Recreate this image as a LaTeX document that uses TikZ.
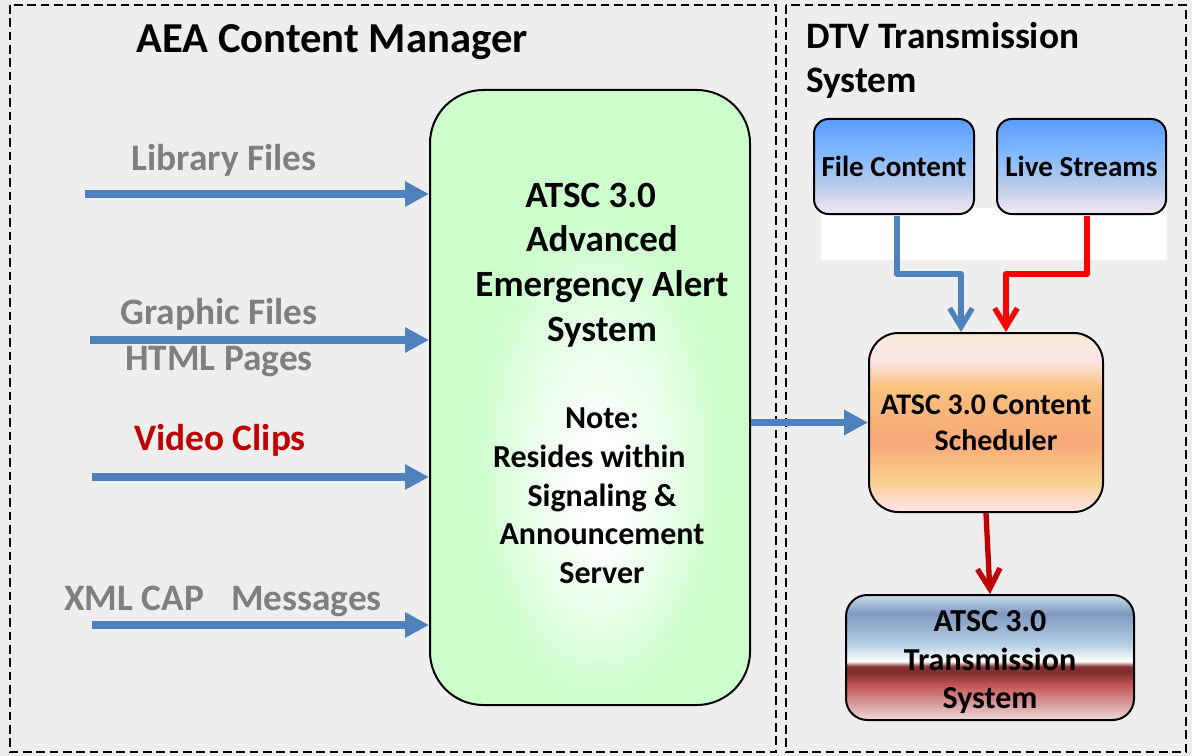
\documentclass[tikz,border=0pt]{standalone}
\usepackage{fontspec}
\setmainfont{Carlito}
\usetikzlibrary{arrows.meta,calc}
\definecolor{bg}{HTML}{EEEEEE}
\definecolor{lblgray}{HTML}{7F7F7F}
\definecolor{vidred}{HTML}{C00000}
\definecolor{arrblue}{HTML}{4F81BD}
\definecolor{arrred}{HTML}{FF0000}
\definecolor{arrdark}{HTML}{C00000}
\definecolor{grnA}{HTML}{CCFFCC}
\definecolor{grnB}{HTML}{E6FFE6}
\definecolor{schA}{HTML}{FCEBD2}
\definecolor{schB}{HTML}{FDE6EC}
\definecolor{schC}{HTML}{F9C27E}
\definecolor{schD}{HTML}{F8A878}
\definecolor{schE}{HTML}{FAD08E}
\definecolor{schF}{HTML}{FDE4F0}
\definecolor{txA}{HTML}{C8DCEA}
\definecolor{txB}{HTML}{7F99C2}
\definecolor{txC}{HTML}{B8D0E2}
\definecolor{txD}{HTML}{FFFFFF}
\definecolor{txE}{HTML}{8A3434}
\definecolor{txF}{HTML}{7F2C2C}
\definecolor{txG}{HTML}{C65555}
\definecolor{txH}{HTML}{D9A0A0}
\definecolor{txI}{HTML}{F2DADA}
\definecolor{bxA}{HTML}{5B9CFF}
\definecolor{bxB}{HTML}{80B8FF}
\definecolor{bxC}{HTML}{BCCBE8}
\definecolor{bxD}{HTML}{F4E8F5}
\pgfdeclareverticalshading{schshade}{100bp}{color(0bp)=(schF); color(25bp)=(schF); color(33.5bp)=(schE); color(45bp)=(schD); color(60bp)=(schC); color(67.5bp)=(schB); color(75bp)=(schA); color(100bp)=(schA)}
\pgfdeclareverticalshading{txshade}{100bp}{color(0bp)=(txI); color(25bp)=(txI); color(31bp)=(txH); color(39bp)=(txG); color(44bp)=(txF); color(46.5bp)=(txE); color(48.5bp)=(txD); color(55bp)=(txC); color(67.5bp)=(txB); color(75bp)=(txA); color(100bp)=(txA)}
\pgfdeclareverticalshading{bxshade}{100bp}{color(0bp)=(bxD); color(25bp)=(bxD); color(40bp)=(bxC); color(57.5bp)=(bxB); color(75bp)=(bxA); color(100bp)=(bxA)}
\pgfdeclareradialshading{greenglow}{\pgfpoint{2bp}{-8bp}}{color(0bp)=(white); color(4bp)=(white); color(12bp)=(grnB); color(20bp)=(grnA); color(50bp)=(grnA)}
\begin{document}
\begin{tikzpicture}[x=0.75pt,y=-0.75pt,
  dashbox/.style={draw=black, line width=1pt, dash pattern=on 6.5pt off 3.5pt},
  lbl/.style={font=\fontsize{28}{34}\selectfont\bfseries, text=lblgray, align=center, inner sep=0pt},
  inarrow/.style={draw=arrblue, line width=5.6pt, -{Triangle[length=18pt,width=18pt]}},
  barbblue/.style={draw=arrblue, line width=4pt, line join=round, -{Straight Barb[length=14pt,width=17pt]}},
  barbred/.style={draw=arrred, line width=4pt, line join=round, -{Straight Barb[length=14pt,width=17pt]}},
  barbdark/.style={draw=arrdark, line width=4pt, -{Straight Barb[length=15pt,width=17pt]}},
  bluebox/.style={draw=black, line width=1.5pt, rounded corners=11pt, shade, shading=bxshade,
    minimum height=71.25pt, inner sep=0pt, font=\fontsize{21.8}{25}\selectfont\bfseries},
]
\useasboundingbox (0,0) rectangle (1192,756);
\fill[bg] (0,0) rectangle (1192,756);
\draw[dashbox] (10,5) rectangle (776,752);
\draw[dashbox] (786,5) rectangle (1186,752);

% titles
\node[font=\fontsize{32}{36}\selectfont\bfseries, inner sep=0pt] (title) at (332,42) {AEA Content Manager};
\node[font=\fontsize{28}{33}\selectfont\bfseries, align=left, anchor=west, inner sep=0pt] (dtv) at (806,60) {DTV Transmission\\System};

% green box
\node[draw=black, line width=1.5pt, rounded corners=40pt, shade, shading=greenglow,
  minimum width=240pt, minimum height=461.25pt] (green) at (590,397.5) {};
\node[font=\fontsize{27.8}{33.5}\selectfont\bfseries, align=center, inner sep=0pt] (gtext) at (602,265)
  {ATSC 3.0\rule{17pt}{0pt}\\Advanced\\Emergency Alert\\System};
\node[font=\fontsize{24}{29}\selectfont\bfseries, align=center, inner sep=0pt] (note) at (602,496)
  {Note:\\Resides within\rule{19pt}{0pt}\\Signaling \&\\Announcement\\Server};

% left labels and arrows
\node[lbl] (lib) at (224,160) {Library Files};
\node[lbl] (gfx) at (219,337.5) {Graphic Files\\HTML Pages};
\node[lbl, text=vidred] (vid) at (220,440) {Video Clips};
\node[lbl] (xml) at (223,601) {XML CAP\hspace{0.5em} Messages};
\coordinate (s1) at (85,194);
\coordinate (s2) at (90,340);
\coordinate (s3) at (92,477);
\coordinate (s4) at (92,625);
\draw[inarrow] (s1) -- (s1 -| green.west);
\draw[inarrow] (s2) -- (s2 -| green.west);
\draw[inarrow] (s3) -- (s3 -| green.west);
\draw[inarrow] (s4) -- (s4 -| green.west);

% right side
\fill[white] (821,208) rectangle (1167,260);
\node[bluebox, minimum width=120pt] (fc) at (894,166.5) {File Content};
\node[bluebox, minimum width=126.75pt] (ls) at (1081.5,166.5) {Live Streams};
\node[draw=black, line width=1.5pt, rounded corners=22pt, shade, shading=schshade,
  minimum width=175.5pt, minimum height=134.25pt, align=center, inner sep=0pt,
  font=\fontsize{22.4}{27}\selectfont\bfseries] (sch) at (986,422.5)
  {ATSC 3.0 Content\\\rule{15pt}{0pt}Scheduler};
\node[draw=black, line width=1.5pt, rounded corners=16pt, shade, shading=txshade,
  minimum width=216pt, minimum height=93.75pt, align=center, inner sep=0pt,
  font=\fontsize{24}{29}\selectfont\bfseries] (tx) at (990,657.5)
  {\rule{0pt}{23pt}ATSC 3.0\\Transmission\\System};

\coordinate (b0) at (897,216);
\coordinate (b1) at (961,274);
\coordinate (r0) at (1087,216);
\coordinate (r1) at (1006,274);
\draw[barbblue] (b0) |- (b1) -- (b1 |- sch.north);
\draw[barbred] (r0) |- (r1) -- (r1 |- sch.north);
\draw[inarrow, line width=5pt] (sch.west -| green.east) -- (sch.west);
\draw[barbdark] (sch.south) -- (tx.north);
\end{tikzpicture}
\end{document}
